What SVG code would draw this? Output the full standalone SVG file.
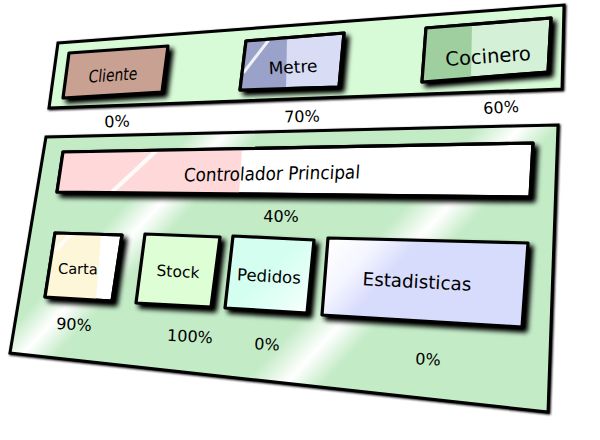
<svg xmlns="http://www.w3.org/2000/svg" width="600" height="440" viewBox="0 0 600 440">
<defs>
<style>
.panel{stroke:#000;stroke-width:3;stroke-linejoin:miter}
.box{stroke:#000;stroke-width:3.2;stroke-linejoin:round}
.ol{fill:none;stroke:#000;stroke-width:3.2;stroke-linejoin:round}
.t{font-family:"DejaVu Sans","Liberation Sans",sans-serif;fill:#000;text-anchor:middle}
.pct{font-family:"DejaVu Sans","Liberation Sans",sans-serif;fill:#000;text-anchor:middle;font-size:16px}
.hl{stroke:#fff;stroke-width:3;stroke-linecap:round;opacity:0.85}
</style>
<filter id="sh" x="-20%" y="-30%" width="150%" height="180%">
<feGaussianBlur in="SourceAlpha" stdDeviation="2.6"/>
<feOffset dx="4" dy="4" result="b"/>
<feComponentTransfer><feFuncA type="linear" slope="1.1"/></feComponentTransfer>
<feMerge><feMergeNode/><feMergeNode in="SourceGraphic"/></feMerge>
</filter>
<filter id="psh" x="-5%" y="-10%" width="110%" height="125%">
<feGaussianBlur in="SourceAlpha" stdDeviation="1"/>
<feOffset dx="1" dy="1"/>
<feMerge><feMergeNode/><feMergeNode in="SourceGraphic"/></feMerge>
</filter>
<linearGradient id="bandBottom" gradientUnits="userSpaceOnUse" x1="110" y1="102" x2="405" y2="372">
<stop offset="0" stop-color="#c3ebc6"/>
<stop offset="0.2" stop-color="#c3ebc6"/>
<stop offset="0.265" stop-color="#ffffff"/>
<stop offset="0.33" stop-color="#c3ebc6"/>
<stop offset="0.72" stop-color="#c3ebc6"/>
<stop offset="0.8" stop-color="#ffffff"/>
<stop offset="0.87" stop-color="#c3ebc6"/>
<stop offset="1" stop-color="#c3ebc6"/>
</linearGradient>
<linearGradient id="estGrad" gradientUnits="userSpaceOnUse" x1="325" y1="245" x2="375" y2="290">
<stop offset="0" stop-color="#ffffff"/>
<stop offset="0.55" stop-color="#f4f5ff"/>
<stop offset="1" stop-color="#d8dcfc"/>
</linearGradient>
<linearGradient id="pedGrad" gradientUnits="userSpaceOnUse" x1="270" y1="270" x2="312" y2="312">
<stop offset="0" stop-color="#d4fff0"/>
<stop offset="0.6" stop-color="#e8fff8"/>
<stop offset="1" stop-color="#ffffff"/>
</linearGradient>
</defs>

<!-- top panel -->
<g id="top-panel">
<polygon class="panel" points="58,43 564,5 562,89 49,108" fill="#d7fbd7" filter="url(#psh)"/>
</g>

<g id="cliente">
<polygon class="box" points="69,53 168,46 162,92 63,98" fill="#c9a193" filter="url(#sh)"/>
<text class="t" x="0" y="6" font-size="17" transform="translate(113 75) rotate(-4) skewX(-10) scale(0.82 1)">Cliente</text>
</g>

<g id="metre">
<polygon class="box" points="246,41 344,33 339,87 240,90" fill="#d8dcf4" filter="url(#sh)"/>
<polygon points="246,41 287,37.7 286,88.6 240,90" fill="#9aa2c9"/>
<line class="hl" x1="268" y1="41" x2="244" y2="72"/>
<polygon class="ol" points="246,41 344,33 339,87 240,90"/>
<text class="t" x="293" y="73" font-size="17" transform="rotate(-3 293 67)">Metre</text>
</g>

<g id="cocinero">
<polygon class="box" points="426,28 551,18 548,72 422,82" fill="#d4f0d6" filter="url(#sh)"/>
<polygon points="426,28 472,24.3 471,78.1 422,82" fill="#9fcf9f"/>
<polygon class="ol" points="426,28 551,18 548,72 422,82"/>
<text class="t" x="488" y="63" font-size="19.5" transform="rotate(-4 488 56)">Cocinero</text>
</g>

<g id="labels-top">
<text class="pct" x="117" y="127" transform="rotate(-2 117 121)">0%</text>
<text class="pct" x="302" y="122" transform="rotate(-2 302 116)">70%</text>
<text class="pct" x="501" y="113" transform="rotate(-3 501 107)">60%</text>
</g>

<!-- bottom panel -->
<g id="bottom-panel">
<polygon class="panel" points="46,137 558,125 548,412 10,353" fill="url(#bandBottom)" filter="url(#psh)"/>
</g>

<g id="controlador">
<polygon class="box" points="63,152 533,143 530,197 57,192" fill="#ffffff" filter="url(#sh)"/>
<polygon points="63,152 242,148.6 239,193.9 57,192" fill="#ffd9d9"/>
<line x1="157" y1="150" x2="112" y2="192" stroke="#fff" stroke-width="4" opacity="0.9"/>
<polygon class="ol" points="63,152 533,143 530,197 57,192"/>
<text class="t" x="0" y="7" font-size="18.5" transform="translate(272 173) rotate(-1) skewX(-5) scale(0.91 1)">Controlador Principal</text>
</g>

<text class="pct" x="281" y="222">40%</text>

<g id="carta">
<polygon class="box" points="55,233 122,235 112,301 45,297" fill="#ffffff" filter="url(#sh)"/>
<polygon points="55,233 101,234.4 96,299.8 45,297" fill="#fdf6d8"/>
<line x1="70" y1="235" x2="56" y2="250" stroke="#fff" stroke-width="4" opacity="0.8"/>
<polygon class="ol" points="55,233 122,235 112,301 45,297"/>
<text class="t" x="78" y="274" font-size="14.5" transform="rotate(1 78 268)">Carta</text>
</g>

<g id="stock">
<polygon class="box" points="145,234 220,237 211,307 136,303" fill="#deffd6" filter="url(#sh)"/>
<text class="t" x="178" y="277" font-size="15.5" transform="rotate(3 178 271)">Stock</text>
</g>

<g id="pedidos">
<polygon class="box" points="233,236 314,240 307,313 225,308" fill="url(#pedGrad)" filter="url(#sh)"/>
<text class="t" x="269" y="282" font-size="16.5" transform="rotate(3 269 276)">Pedidos</text>
</g>

<g id="estadisticas">
<polygon class="box" points="328,238 528,243 522,327 322,315" fill="url(#estGrad)" filter="url(#sh)"/>
<text class="t" x="417" y="288" font-size="18.3" transform="rotate(3 417 281)">Estadisticas</text>
</g>

<g id="labels-bottom">
<text class="pct" x="74" y="330" transform="rotate(3 74 324)">90%</text>
<text class="pct" x="190" y="342" transform="rotate(3 190 336)">100%</text>
<text class="pct" x="267" y="350" transform="rotate(3 267 344)">0%</text>
<text class="pct" x="428" y="365" transform="rotate(3 428 359)">0%</text>
</g>
</svg>
